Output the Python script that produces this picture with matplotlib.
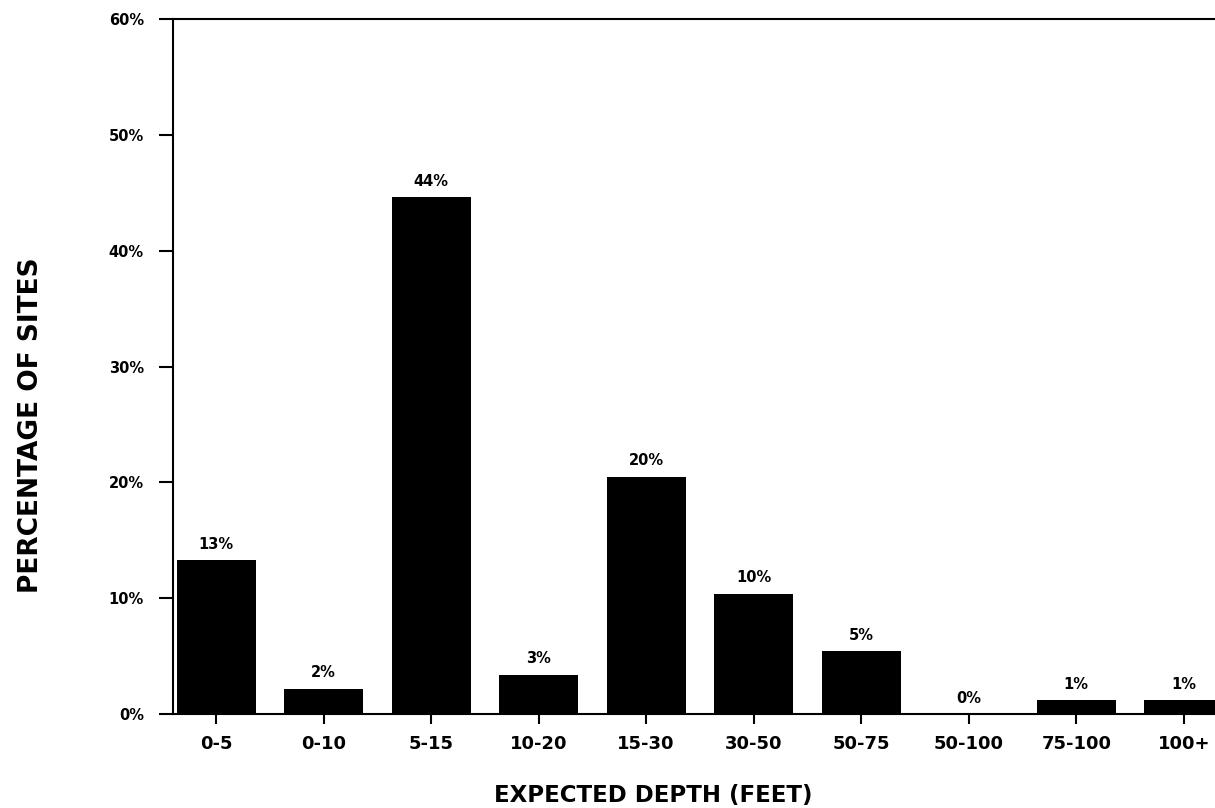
import numpy as np
import matplotlib
matplotlib.use('Agg')
import matplotlib.pyplot as plt

plt.rcParams['font.family'] = ['DejaVu Sans']
plt.rcParams['font.weight'] = 'bold'

# Values
categories = ['0-5', '0-10', '5-15', '10-20', '15-30', '30-50', '50-75',
              '50-100', '75-100', '100+']
percent = [13.3, 2.2, 44.6, 3.4, 20.5, 10.4, 5.4, 0.0, 1.2, 1.2]
bar_labels = ['13%', '2%', '44%', '3%', '20%', '10%', '5%', '0%', '1%', '1%']
yticks = [0, 10, 20, 30, 40, 50, 60]


def main():
    fig = plt.figure(figsize=(12.15, 8.08), dpi=100)
    ax = fig.add_axes([0.1424, 0.1163, 0.8576, 0.8601])

    x = np.arange(len(categories))
    bars = ax.bar(x, percent, width=0.735, color='black')

    for b, lab in zip(bars, bar_labels):
        ax.annotate(lab, (b.get_x() + b.get_width() / 2, b.get_height()),
                    xytext=(0, 6), textcoords='offset points',
                    ha='center', va='bottom', fontsize=10.5, fontweight='bold')

    ax.set_xlim(-0.4, 9.29)
    ax.set_ylim(0, 60)
    ax.set_xticks(x)
    ax.set_xticklabels(categories, fontsize=13, fontweight='bold')
    ax.set_yticks(yticks)
    ax.set_yticklabels(['{}%'.format(v) for v in yticks], fontsize=10.5,
                       fontweight='bold')

    ax.tick_params(axis='y', direction='out', length=10, width=1.5, pad=11)
    ax.tick_params(axis='x', direction='out', length=7, width=1.5, pad=8)

    for side in ['left', 'top', 'bottom']:
        ax.spines[side].set_linewidth(1.5)
    ax.spines['right'].set_visible(False)

    ax.set_xlabel('EXPECTED DEPTH (FEET)', fontsize=16.5, fontweight='bold')
    ax.xaxis.set_label_coords(0.461, -0.101)
    ax.set_ylabel('PERCENTAGE OF SITES', fontsize=19, fontweight='bold')
    ax.yaxis.set_label_coords(-0.124, 0.416)

    fig.savefig('out.png', dpi=100)


if __name__ == '__main__':
    main()
